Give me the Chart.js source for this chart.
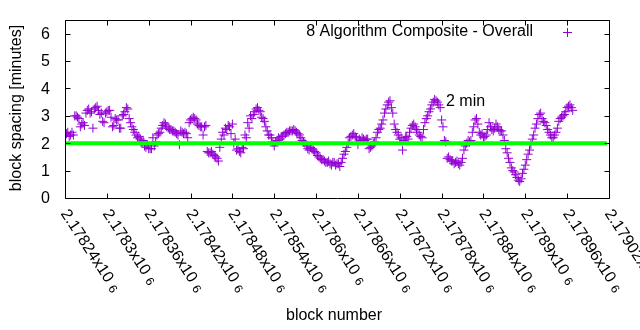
<!DOCTYPE html>
<html>
<head>
<meta charset="utf-8">
<script src="https://cdn.jsdelivr.net/npm/chart.js@4/dist/chart.umd.min.js"></script>
<style>
html,body{margin:0;padding:0;background:#fff;}
#wrap{width:640px;height:330px;position:relative;}
</style>
</head>
<body>
<div id="wrap"><canvas id="c" width="640" height="330"></canvas></div>
<script>
// ---- data ----
const blockStart = 2178240;
const blockOffsets = [
0,4,8,12,16,20,24,28,32,36,40,44,48,52,56,60,64,68,72,76,80,84,88,92,96,100,104,108,112,116,120,124,128,132,136,140,144,148,152,156,160,164,168,172,176,180,184,188,192,196,200,204,208,212,216,220,224,228,232,236,240,244,248,252,256,260,264,268,272,276,280,284,288,292,296,300,304,308,312,316,320,324,328,332,336,340,344,348,352,356,360,364,368,372,376,380,384,388,392,396,400,404,408,412,416,420,424,428,432,436,440,444,448,452,456,460,464,468,472,476,480,484,488,492,496,500,504,508,512,516,520,524,528,532,536,540,544,548,552,556,560,564,568,572,576,580,584,588,592,596,600,604,608,612,616,620,624,628,632,636,640,644,648,652,656,660,664,668,672,676,680,684,688,692,696,700,704,708,712,716,720,724,728
];
const spacingMinutes = [
2.3,2.4,2.3,2.3,3.0,2.9,2.7,2.65,3.2,3.1,2.55,3.3,3.2,3.1,2.75,3.15,3.2,2.6,2.9,2.85,2.55,3.05,3.3,2.9,2.6,2.4,2.2,2.15,2.1,1.85,1.8,1.8,1.9,2.3,2.4,2.65,2.7,2.55,2.5,2.45,2.35,1.95,2.4,2.4,2.2,2.85,2.95,2.85,2.65,2.6,2.6,1.7,1.65,1.6,1.5,1.35,2.15,2.3,2.5,2.6,2.7,2.15,1.8,1.65,1.8,2.2,2.55,2.9,3.15,3.3,3.15,2.9,2.6,2.3,2.2,1.9,2.1,2.15,2.25,2.35,2.4,2.45,2.5,2.4,2.3,2.1,2.0,1.8,1.85,1.75,1.65,1.5,1.4,1.35,1.3,1.25,1.3,1.2,1.25,1.3,1.6,1.85,2.2,2.3,2.25,1.95,2.1,2.15,2.15,1.8,1.9,2.05,2.4,2.55,2.85,3.25,3.5,3.3,2.7,2.4,2.15,1.75,2.2,2.15,2.55,2.7,2.5,2.3,2.2,2.75,3.0,3.25,3.5,3.55,3.4,2.85,2.1,1.45,1.4,1.35,1.3,1.25,1.3,1.75,2.0,2.05,2.4,2.85,2.7,2.3,2.2,2.3,2.75,2.5,2.55,2.6,2.45,2.3,1.8,1.45,1.1,0.95,0.75,0.6,0.9,1.2,1.6,1.95,2.3,2.7,3.05,2.9,2.75,2.5,2.3,2.2,2.4,2.8,2.95,3.05,3.3,3.4,3.2
];
// in-between blocks (the clusters between the points above)
const blockOffsetsB = [
2,6,10,14,18,22,26,30,34,38,42,46,50,54,58,62,66,70,74,78,82,86,90,94,98,102,106,110,114,118,122,126,130,134,138,142,146,150,154,158,162,166,170,174,178,182,186,190,194,198,202,206,210,214,218,222,226,230,234,238,242,246,250,254,258,262,266,270,274,278,282,286,290,294,298,302,306,310,314,318,322,326,330,334,338,342,346,350,354,358,362,366,370,374,378,382,386,390,394,398,402,406,410,414,418,422,426,430,434,438,442,446,450,454,458,462,466,470,474,478,482,486,490,494,498,502,506,510,514,518,522,526,530,534,538,542,546,550,554,558,562,566,570,574,578,582,586,590,594,598,602,606,610,614,618,622,626,630,634,638,642,646,650,654,658,662,666,670,674,678,682,686,690,694,698,702,706,710,714,718,722,726
];
const spacingMinutesB = [
2.35,2.25,2.4,3.0,2.95,2.6,2.75,3.1,3.25,3.15,3.25,3.35,3.05,2.8,3.1,3.2,2.95,2.65,2.85,2.55,3.0,3.15,3.25,2.75,2.5,2.3,2.25,2.05,1.9,1.95,1.8,2.2,2.05,2.35,2.55,2.75,2.6,2.5,2.45,2.4,2.3,2.45,2.35,2.35,2.75,2.9,2.9,2.7,2.6,2.3,2.65,1.65,1.7,1.55,1.45,1.85,2.4,2.55,2.65,2.35,2.0,1.75,1.7,1.85,2.3,2.75,3.0,3.05,3.25,3.2,2.95,2.8,2.45,2.3,2.05,2.05,2.2,2.25,2.3,2.4,2.45,2.45,2.45,2.35,2.2,2.05,1.9,1.75,1.8,1.7,1.55,1.45,1.4,1.3,1.35,1.2,1.3,1.25,1.15,1.45,1.7,2.0,2.25,2.35,2.2,2.15,2.2,2.1,2.15,1.85,2.0,2.2,2.5,2.7,3.1,3.4,3.55,3.1,2.5,2.3,2.2,2.1,2.25,2.4,2.65,2.6,2.4,2.25,2.5,2.9,3.15,3.4,3.6,3.5,3.3,2.6,2.05,1.5,1.35,1.25,1.35,1.2,1.45,1.9,2.1,2.1,2.6,2.9,2.4,2.35,2.25,2.5,2.6,2.45,2.7,2.5,2.45,2.1,1.65,1.3,1.0,0.85,0.65,0.7,1.05,1.4,1.75,2.15,2.55,2.9,3.1,2.8,2.65,2.4,2.2,2.3,2.55,2.9,3.0,3.15,3.35,3.3
];
const targetMinutes = 2;
const xTickValues = [2178240,2178300,2178360,2178420,2178480,2178540,2178600,2178660,2178720,2178780,2178840,2178900,2178960,2179020];
const xTickLabels = ["2.17824x10","2.1783x10","2.17836x10","2.17842x10","2.17848x10","2.17854x10","2.1786x10","2.17866x10","2.17872x10","2.17878x10","2.17884x10","2.1789x10","2.17896x10","2.17902x10"];
const xTickExponent = "6";
const yTickValues = [0,1,2,3,4,5,6];
const yTickLabels = ["0","1","2","3","4","5","6"];
const seriesName = "8 Algorithm Composite - Overall";
const lineLabel = "2 min";
const xTitle = "block number";
const yTitle = "block spacing [minutes]";

const points = blockOffsets.map((o,i)=>({x: blockStart + o, y: spacingMinutes[i]}))
  .concat(blockOffsetsB.map((o,i)=>({x: blockStart + o, y: spacingMinutesB[i]})));
const targetLine = [{x: 2178240, y: targetMinutes}, {x: 2179017, y: targetMinutes}];

const FONT = '16px "Liberation Sans", Arial, sans-serif';
const SUPFONT = '12px "Liberation Sans", Arial, sans-serif';
const PURPLE = '#9400d3';

const gnuplotFrame = {
  id: 'gnuplotFrame',
  afterDraw(chart) {
    const ctx = chart.ctx, a = chart.chartArea;
    const xs = chart.scales.x, ys = chart.scales.y;
    ctx.save();
    ctx.strokeStyle = '#000'; ctx.lineWidth = 1;
    const L = Math.round(a.left)+0.5, R = Math.round(a.right)+0.5, T = Math.round(a.top)+0.5, B = Math.round(a.bottom)+0.5;
    ctx.beginPath(); ctx.rect(L, T, R-L, B-T); ctx.stroke();
    const tl = 5;
    ctx.beginPath();
    xTickValues.forEach(v => {
      const px = Math.round(xs.getPixelForValue(v))+0.5;
      ctx.moveTo(px, B); ctx.lineTo(px, B-tl);
      ctx.moveTo(px, T); ctx.lineTo(px, T+tl);
    });
    yTickValues.forEach(v => {
      const py = Math.round(ys.getPixelForValue(v))+0.5;
      ctx.moveTo(L, py); ctx.lineTo(L+tl, py);
      ctx.moveTo(R, py); ctx.lineTo(R-tl, py);
    });
    ctx.stroke();
    ctx.fillStyle = '#000';
    ctx.font = FONT;
    ctx.textAlign = 'right'; ctx.textBaseline = 'middle';
    yTickValues.forEach((v,i) => {
      ctx.fillText(yTickLabels[i], a.left - 15, ys.getPixelForValue(v)+1);
    });
    // rotated x tick labels
    const ang = 57 * Math.PI/180;
    xTickValues.forEach((v,i) => {
      const px = xs.getPixelForValue(v);
      ctx.save();
      ctx.translate(px - 1, a.bottom + 13);
      ctx.rotate(ang);
      ctx.textAlign = 'left'; ctx.textBaseline = 'middle';
      ctx.font = FONT;
      ctx.fillText(xTickLabels[i], 0, 0);
      const w = ctx.measureText(xTickLabels[i]).width;
      ctx.font = SUPFONT;
      ctx.fillText(xTickExponent, w + 5, 2);
      ctx.restore();
    });
    // axis titles
    ctx.font = FONT;
    ctx.textAlign = 'center'; ctx.textBaseline = 'middle';
    ctx.fillText(xTitle, 334, 316);
    ctx.save();
    ctx.translate(17, 108);
    ctx.rotate(-Math.PI/2);
    ctx.fillText(yTitle, 0, 0);
    ctx.restore();
    // legend
    ctx.textAlign = 'right';
    ctx.fillText(seriesName, 533, 32);
    ctx.strokeStyle = PURPLE;
    ctx.beginPath();
    ctx.moveTo(563, 32.5); ctx.lineTo(572, 32.5);
    ctx.moveTo(567.5, 28); ctx.lineTo(567.5, 37);
    ctx.stroke();
    // label
    ctx.fillStyle = '#000';
    ctx.textAlign = 'left';
    ctx.fillText(lineLabel, 446, 102);
    ctx.restore();
  }
};

new Chart(document.getElementById('c'), {
  type: 'scatter',
  data: {
    datasets: [
      { label: 'target', data: targetLine, showLine: true, borderColor: '#00ff00', borderWidth: 4, pointRadius: 0, order: 0, borderCapStyle: 'butt' },
      { label: seriesName, data: points, pointStyle: 'cross', pointRadius: 4.5, borderColor: PURPLE, backgroundColor: PURPLE, pointBorderWidth: 1, borderWidth: 1, order: 1 }
    ]
  },
  options: {
    responsive: false,
    animation: false,
    devicePixelRatio: 1,
    layout: { padding: { left: 65, right: 31, top: 20, bottom: 132 } },
    plugins: { legend: { display: false }, tooltip: { enabled: false } },
    scales: {
      x: { type: 'linear', display: false, min: 2178240, max: 2179020 },
      y: { type: 'linear', display: false, min: 0, max: 6.5 }
    }
  },
  plugins: [gnuplotFrame]
});
</script>
</body>
</html>
